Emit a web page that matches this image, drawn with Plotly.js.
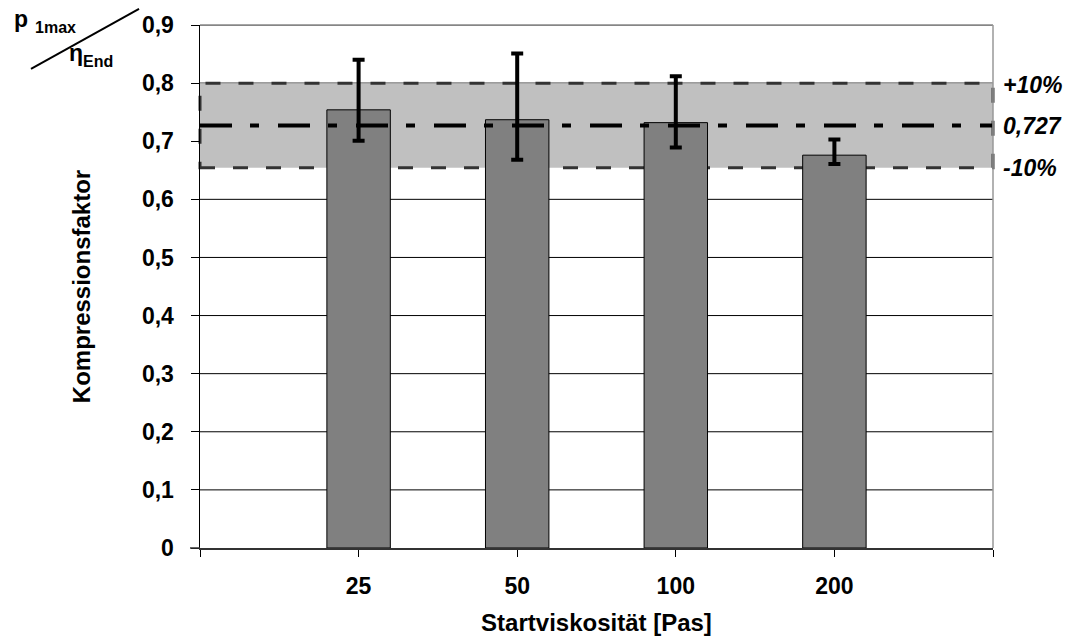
<!DOCTYPE html>
<html>
<head>
<meta charset="utf-8">
<script src="https://cdn.plot.ly/plotly-3.0.1.min.js"></script>
<style>html,body{margin:0;padding:0;background:#fff;}#chart{width:1071px;height:641px;}</style>
</head>
<body>
<div id="chart"></div>
<script>
// ---- data ----
const categories = ['25', '50', '100', '200'];
const values     = [0.754, 0.737, 0.732, 0.676];
const errTop     = [0.840, 0.851, 0.812, 0.703];
const errBottom  = [0.701, 0.668, 0.689, 0.661];
const meanValue  = 0.727;
const bandUpper  = 0.7997;
const bandLower  = 0.6543;
const bandLabels = ['+10%', '0,727', '-10%'];
const yTickVals  = [0, 0.1, 0.2, 0.3, 0.4, 0.5, 0.6, 0.7, 0.8, 0.9];

const FONT = 'Liberation Sans, Arial, sans-serif';
const xPos = categories.map((c, i) => i + 1);

const trace = {
  type: 'bar',
  x: xPos,
  y: values,
  width: 0.4,
  marker: {color: '#808080', line: {color: '#000', width: 1}},
  error_y: {
    type: 'data', symmetric: false,
    array: values.map((v, i) => errTop[i] - v),
    arrayminus: values.map((v, i) => v - errBottom[i]),
    color: '#000', thickness: 4, width: 6
  },
  hoverinfo: 'x+y'
};

// gridlines drawn as shapes so the band can cover them
const gridShapes = yTickVals.slice(1).map(v => ({
  type: 'line', layer: 'below', xref: 'paper', yref: 'y', x0: 0, x1: 1, y0: v, y1: v,
  line: {color: '#000', width: 1}
}));

const layout = {
  width: 1071, height: 641,
  margin: {l: 200, r: 78, t: 25, b: 93},
  paper_bgcolor: '#fff', plot_bgcolor: '#fff',
  showlegend: false,
  separators: ', ',
  font: {family: FONT, size: 23, color: '#000', weight: 'bold'},
  xaxis: {
    range: [0, categories.length + 1],
    tickvals: [0].concat(xPos, [categories.length + 1]),
    ticktext: [''].concat(categories, ['']),
    ticks: 'outside', ticklen: 7, tickwidth: 1, tickcolor: '#000',
    showline: true, linecolor: '#333', linewidth: 1.5,
    showgrid: false, zeroline: false,
    ticklabelstandoff: 10,
    tickfont: {family: FONT, size: 23, weight: 'bold'},
    title: {text: 'Startviskosität [Pas]', standoff: 16, font: {family: FONT, size: 24, weight: 'bold'}}
  },
  yaxis: {
    range: [0, 0.9],
    tickvals: yTickVals,
    ticks: 'outside', ticklen: 8, tickwidth: 1, tickcolor: '#000',
    showline: true, linecolor: '#000', linewidth: 1.5,
    showgrid: false, zeroline: false,
    ticklabelstandoff: 12,
    tickfont: {family: FONT, size: 23, weight: 'bold'},
    title: {text: 'Kompressionsfaktor', standoff: 44, font: {family: FONT, size: 24, weight: 'bold'}}
  },
  shapes: gridShapes.concat([
    {type: 'rect', layer: 'below', xref: 'paper', yref: 'y', x0: 0, x1: 1, y0: bandLower, y1: bandUpper,
     fillcolor: '#c0c0c0', line: {color: '#333', width: 3, dash: '15px,18px'}},
    {type: 'line', layer: 'above', xref: 'paper', yref: 'y', x0: 0, x1: 1, y0: meanValue, y1: meanValue,
     line: {color: '#000', width: 4, dash: '32px,18px,9px,19px'}},
    {type: 'line', layer: 'above', xref: 'paper', yref: 'paper', x0: 0, x1: 1, y0: 1, y1: 1,
     line: {color: '#888', width: 1.5}},
    {type: 'line', layer: 'above', xref: 'paper', yref: 'paper', x0: 1, x1: 1, y0: 0, y1: 1,
     line: {color: '#999', width: 1.5}},
    {type: 'line', layer: 'above', xref: 'paper', yref: 'paper', x0: -0.0126, x1: 0, y0: 0, y1: 0,
     line: {color: '#333', width: 1.5}},
    {type: 'line', xref: 'paper', yref: 'paper', x0: -0.2131, y0: 0.9159, x1: -0.0769, y1: 1.0306,
     line: {color: '#000', width: 2}}
  ]),
  annotations: [
    {xref: 'paper', yref: 'y', x: 1, y: bandUpper, text: bandLabels[0], showarrow: false, xanchor: 'left', yanchor: 'middle', xshift: 8, yshift: -2,
     font: {family: FONT, size: 23, weight: 'bold', style: 'italic'}},
    {xref: 'paper', yref: 'y', x: 1, y: meanValue, text: bandLabels[1], showarrow: false, xanchor: 'left', yanchor: 'middle', xshift: 8,
     font: {family: FONT, size: 23, weight: 'bold', style: 'italic'}},
    {xref: 'paper', yref: 'y', x: 1, y: bandLower, text: bandLabels[2], showarrow: false, xanchor: 'left', yanchor: 'middle', xshift: 8,
     font: {family: FONT, size: 23, weight: 'bold', style: 'italic'}},
    {xref: 'paper', yref: 'paper', x: -0.2371, y: 1.0115, text: 'p', showarrow: false, xanchor: 'left', yanchor: 'middle',
     font: {family: FONT, size: 23, weight: 'bold'}},
    {xref: 'paper', yref: 'paper', x: -0.2106, y: 0.9954, text: '1max', showarrow: false, xanchor: 'left', yanchor: 'middle',
     font: {family: FONT, size: 16, weight: 'bold'}},
    {xref: 'paper', yref: 'paper', x: -0.1677, y: 0.9465, text: 'η', showarrow: false, xanchor: 'left', yanchor: 'middle',
     font: {family: FONT, size: 23, weight: 'bold'}},
    {xref: 'paper', yref: 'paper', x: -0.1501, y: 0.9304, text: 'End', showarrow: false, xanchor: 'left', yanchor: 'middle',
     font: {family: FONT, size: 16, weight: 'bold'}}
  ]
};

Plotly.newPlot('chart', [trace], layout, {displayModeBar: false, staticPlot: true});
</script>
</body>
</html>
